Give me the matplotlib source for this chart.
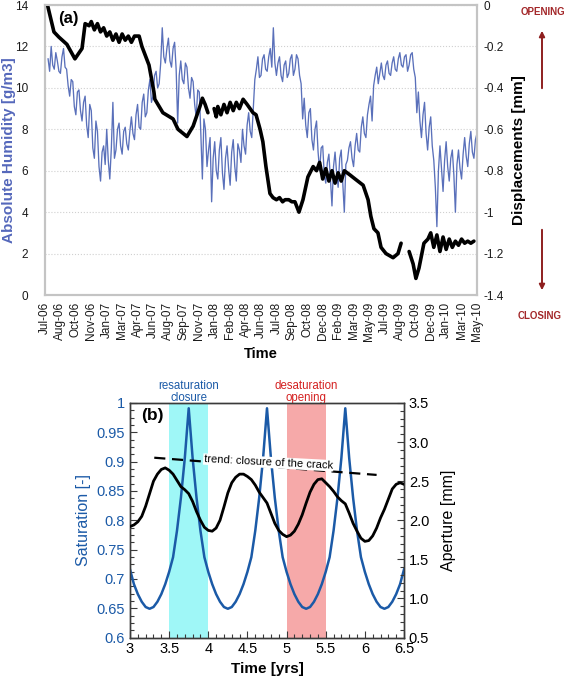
import numpy as np
import matplotlib
matplotlib.use("Agg")
import matplotlib.pyplot as plt
from matplotlib.ticker import MultipleLocator, FormatStrFormatter

plt.rcParams['font.family'] = ['Liberation Sans', 'DejaVu Sans']

# ---------------- panel (a) data: days since 2 Jul 2006 ----------------
date_ticks = ['Jul-06', 'Aug-06', 'Oct-06', 'Nov-06', 'Jan-07', 'Mar-07', 'Apr-07',
              'Jun-07', 'Aug-07', 'Sep-07', 'Nov-07', 'Jan-08', 'Feb-08', 'Apr-08',
              'Jun-08', 'Jul-08', 'Sep-08', 'Oct-08', 'Dec-08', 'Feb-09', 'Mar-09',
              'May-09', 'Jul-09', 'Aug-09', 'Oct-09', 'Dec-09', 'Jan-10', 'Mar-10', 'May-10']
tick_step = 50  # days between date labels

# absolute humidity [g/m3], one reading every 5 days from day 10
humidity = [11.4, 10.8, 12.0, 11.1, 10.9, 11.7, 11.3, 10.8, 10.7, 11.5,
            11.9, 11.0, 10.9, 10.1, 9.6, 10.4, 10.3, 9.1, 8.7, 9.8,
            9.9, 8.9, 8.4, 9.3, 9.6, 8.2, 7.6, 9.2, 8.9, 7.1,
            6.6, 8.4, 7.9, 6.2, 5.5, 6.9, 7.2, 6.3, 8.0, 6.5,
            5.6, 7.1, 9.3, 6.6, 7.0, 8.0, 8.3, 7.2, 6.8, 7.9,
            8.1, 7.3, 7.0, 7.9, 8.6, 7.8, 7.5, 8.7, 9.2, 8.1,
            8.0, 9.3, 9.7, 8.6, 8.8, 9.9, 10.4, 9.3, 9.6, 10.6,
            10.8, 10.0, 10.2, 11.2, 12.9, 11.5, 11.2, 11.9, 12.4, 11.3,
            11.0, 11.9, 12.2, 10.9, 8.3, 10.6, 11.3, 10.4, 10.2, 11.2,
            11.0, 10.0, 9.5, 10.5, 10.3, 9.2, 8.6, 9.9, 9.8, 7.8,
            5.6, 8.5, 8.0, 6.2, 7.0, 7.6, 4.5, 6.6, 7.4, 6.0,
            5.6, 7.0, 7.6, 5.9, 5.1, 6.6, 7.2, 6.1, 5.3, 6.9,
            7.5, 6.2, 5.5, 7.3, 7.0, 6.4, 8.0, 7.2, 6.8, 8.2,
            8.8, 7.9, 7.6, 9.0, 10.4, 10.9, 11.5, 10.5, 10.6, 11.4,
            11.6, 10.9, 10.8, 11.5, 11.9, 11.0, 12.9, 11.2, 10.6, 11.2,
            11.5, 10.6, 10.3, 11.1, 11.3, 10.5, 10.7, 11.4, 11.6, 10.6,
            10.9, 11.6, 11.4, 10.6, 10.2, 8.5, 9.5, 8.2, 7.6, 8.8,
            9.0, 7.5, 7.0, 8.0, 8.4, 6.9, 6.0, 7.1, 7.2, 5.8,
            5.4, 6.4, 6.8, 5.6, 4.3, 6.2, 6.9, 5.9, 5.2, 6.6,
            7.0, 5.4, 4.0, 6.3, 6.5, 7.1, 7.4, 6.6, 6.2, 7.2,
            7.8, 7.0, 6.9, 8.1, 8.6, 7.8, 7.6, 8.7, 9.2, 9.6,
            8.4, 10.1, 10.6, 11.0, 10.2, 10.7, 11.2, 10.6, 10.4, 11.1,
            11.3, 10.7, 10.6, 11.2, 11.5, 10.9, 10.8, 11.4, 11.7, 11.1,
            11.0, 11.5, 11.6, 10.8, 11.1, 11.6, 11.7, 10.9, 10.5, 8.8,
            9.8, 8.4, 7.6, 8.7, 9.3, 7.8, 7.0, 8.1, 8.6, 7.2,
            6.5, 5.2, 3.3, 6.0, 7.2, 6.1, 5.0, 6.5, 7.4, 6.2,
            5.5, 6.6, 7.0, 5.8, 4.0, 6.3, 7.0, 6.1, 5.6, 6.8,
            7.6, 6.7, 6.2, 7.3, 7.9, 6.9, 6.6, 7.5, 7.8]
hum_days = np.arange(10, 10 + 5 * len(humidity), 5)

# crack displacement [mm] (nan = gap in record)
disp_days = [8, 29, 45, 71, 97, 120, 130, 143, 150, 160, 170, 180, 190, 200,
             210, 220, 230, 240, 250, 260, 270, 280, 290, 305, 314, 337, 353, 356,
             382, 415, 431, 460, 480, 502, 510, 519, 528, 538, 548, 555, 560, 570,
             580, 590, 600, 610, 620, 630, 642, 655, 674, 684, 697, 706, 716, 729,
             739, 750, 760, 770, 778, 790, 800, 810, 823, 836, 852, 869, 880, 890,
             900, 910, 920, 930, 940, 950, 960, 970, 988, 1005, 1031, 1047, 1056,
             1066, 1079, 1089, 1105, 1128, 1144, 1154, 1165, 1180, 1193, 1202, 1212,
             1228, 1241, 1250, 1260, 1270, 1280, 1290, 1300, 1310, 1320, 1330, 1340,
             1350, 1360, 1370, 1380, 1390]
displacement = [0.0, -0.13, -0.155, -0.19, -0.26, -0.21, -0.09, -0.10, -0.08, -0.12,
                -0.09, -0.13, -0.11, -0.15, -0.13, -0.17, -0.14, -0.18, -0.14, -0.17,
                -0.15, -0.18, -0.15, -0.15, -0.20, -0.29, -0.42, -0.455, -0.52, -0.55,
                -0.60, -0.635, -0.585, -0.49, -0.45, -0.48, -0.52, np.nan, -0.50, -0.54,
                -0.49, -0.53, -0.48, -0.52, -0.47, -0.51, -0.47, -0.50, -0.455, -0.48,
                -0.52, -0.53, -0.60, -0.66, -0.78, -0.91, -0.93, -0.94, -0.93, -0.95,
                -0.94, -0.94, -0.95, -0.95, -1.0, -0.94, -0.83, -0.78, -0.80, -0.76,
                -0.84, -0.79, -0.85, -0.80, -0.86, -0.81, -0.85, -0.80, -0.82, -0.84,
                -0.87, -0.94, -1.02, -1.08, -1.10, -1.17, -1.20, -1.22, -1.20, -1.15,
                np.nan, -1.19, -1.25, -1.32, -1.27, -1.15, -1.13, -1.10, -1.17, -1.11,
                -1.19, -1.12, -1.18, -1.13, -1.17, -1.14, -1.16, -1.13, -1.15, -1.14,
                -1.15, -1.14]

# ---------------- panel (b) data ----------------
time_yrs = np.round(np.arange(3.0, 6.5001, 0.05), 2)
saturation = [0.716, 0.691, 0.674, 0.661, 0.652, 0.649, 0.652, 0.661, 0.674, 0.691,
              0.712, 0.737, 0.782, 0.838, 0.906, 0.991, 0.906, 0.838, 0.782, 0.737,
              0.712, 0.691, 0.674, 0.661, 0.652, 0.649, 0.652, 0.661, 0.674, 0.691,
              0.712, 0.737, 0.782, 0.838, 0.906, 0.991, 0.906, 0.838, 0.782, 0.737,
              0.712, 0.691, 0.674, 0.661, 0.652, 0.649, 0.652, 0.661, 0.674, 0.691,
              0.712, 0.737, 0.782, 0.838, 0.906, 0.991, 0.906, 0.838, 0.782, 0.737,
              0.712, 0.691, 0.674, 0.661, 0.652, 0.649, 0.652, 0.661, 0.674, 0.691,
              0.716]
aperture = [1.92, 1.94, 1.98, 2.05, 2.18, 2.34, 2.50, 2.59, 2.65, 2.67,
            2.64, 2.59, 2.51, 2.43, 2.39, 2.34, 2.24, 2.11, 2.00, 1.91,
            1.87, 1.86, 1.90, 2.00, 2.17, 2.35, 2.48, 2.55, 2.59, 2.59,
            2.56, 2.52, 2.45, 2.36, 2.29, 2.22, 2.09, 1.96, 1.87, 1.82,
            1.79, 1.81, 1.86, 1.95, 2.07, 2.22, 2.36, 2.46, 2.52, 2.53,
            2.48, 2.43, 2.37, 2.30, 2.25, 2.21, 2.09, 1.96, 1.86, 1.77,
            1.73, 1.74, 1.80, 1.90, 2.03, 2.14, 2.27, 2.40, 2.46, 2.48,
            2.46]
trend_x = [3.31, 6.15]
trend_ap = [2.80, 2.58]
resat_band = (3.5, 4.0)
desat_band = (5.0, 5.5)

W, H = 567, 679
fig = plt.figure(figsize=(W / 100, H / 100), dpi=100)

def rect(x0, y0, x1, y1):
    # pixel box -> figure fraction
    return [x0 / W, 1 - y1 / H, (x1 - x0) / W, (y1 - y0) / H]

# ================= panel (a) =================
ax1 = fig.add_axes(rect(45, 5, 477, 295))
ax2 = ax1.twinx()
ax1.plot(hum_days, humidity, color='#4861b3', lw=0.95, alpha=0.9)
ax2.plot(disp_days, displacement, color='black', lw=2.6, solid_capstyle='round')

ax1.set_xlim(0, (len(date_ticks) - 1) * tick_step)
ax1.set_ylim(0, 14)
ax2.set_ylim(-1.4, 0)
ax1.set_yticks(np.arange(0, 15, 2))
ax2.set_yticks(np.arange(-1.4, 0.01, 0.2))
ax2.set_yticklabels(['-1.4', '-1.2', '-1', '-0.8', '-0.6', '-0.4', '-0.2', '0'])
ax1.set_xticks(np.arange(len(date_ticks)) * tick_step)
ax1.set_xticklabels(date_ticks, rotation=90, fontsize=8.5)
ax1.yaxis.grid(True, color='#d0d0d0', ls=':', lw=0.8)
for a in (ax1, ax2):
    for s in a.spines.values():
        s.set_color('#c4c4c4')
        s.set_linewidth(1.5)
    a.tick_params(length=0, labelsize=8.5, colors='#1a1a1a')
ax1.tick_params(axis='y', pad=12)
ax1.tick_params(axis='x', pad=5)
ax2.tick_params(axis='y', pad=5)
ax1.set_ylabel('Absolute Humidity [g/m3]', color='#5568bb', fontsize=11,
               fontweight='bold')
ax1.yaxis.set_label_coords(-(45 - 16) / 432, 0.5)
ax2.set_ylabel('Displacements [mm]', fontsize=11, fontweight='bold')
ax2.yaxis.set_label_coords((512 - 45) / 432, 0.5)
ax1.set_xlabel('Time', fontsize=10.5, fontweight='bold', labelpad=4)
ax1.text(0.03, 0.955, '(a)', transform=ax1.transAxes, fontsize=12,
         fontweight='bold', ha='left', va='center')

red = '#a3282a'
fig.text(543 / W, 1 - 12 / H, 'OPENING', color=red, fontsize=7, fontweight='bold',
         ha='center', va='center')
fig.text(540 / W, 1 - 316 / H, 'CLOSING', color=red, fontsize=7, fontweight='bold',
         ha='center', va='center')
ax1.annotate('', xy=(542 / W, 1 - 28 / H), xytext=(542 / W, 1 - 91 / H),
             xycoords='figure fraction', annotation_clip=False,
             arrowprops=dict(arrowstyle='-|>', color='#8e1f1f', lw=1.4, mutation_scale=8))
ax1.annotate('', xy=(542 / W, 1 - 293 / H), xytext=(542 / W, 1 - 227 / H),
             xycoords='figure fraction', annotation_clip=False,
             arrowprops=dict(arrowstyle='-|>', color='#8e1f1f', lw=1.4, mutation_scale=8))

# ================= panel (b) =================
bx1 = fig.add_axes(rect(130, 403, 404, 637.5))
bx2 = bx1.twinx()
bx1.axvspan(*resat_band, color='#9ff7f7', lw=0, zorder=0)
bx1.axvspan(*desat_band, color='#f6a9a9', lw=0, zorder=0)
bx1.plot(time_yrs, saturation, color='#1b5aa7', lw=1.8, zorder=3)
bx2.plot(time_yrs, aperture, color='black', lw=2.0, zorder=3)
bx2.plot(trend_x, trend_ap, color='black', lw=1.6, ls=(0, (5, 3)), zorder=2)
bx2.text(3.94, 2.74, 'trend: closure of the crack', fontsize=8, rotation=-3,
         ha='left', va='center', zorder=4,
         bbox=dict(facecolor='white', edgecolor='none', pad=0.5))

bx1.set_xlim(3, 6.5)
bx1.set_ylim(0.6, 1.0)
bx2.set_ylim(0.5, 3.5)
bx1.xaxis.set_major_locator(MultipleLocator(0.5))
bx1.xaxis.set_minor_locator(MultipleLocator(0.1))
bx1.xaxis.set_major_formatter(FormatStrFormatter('%g'))
bx1.yaxis.set_major_locator(MultipleLocator(0.05))
bx1.yaxis.set_minor_locator(MultipleLocator(0.0125))
bx1.yaxis.set_major_formatter(FormatStrFormatter('%g'))
bx2.yaxis.set_major_locator(MultipleLocator(0.5))
bx2.yaxis.set_minor_locator(MultipleLocator(0.1))
bx2.yaxis.set_major_formatter(FormatStrFormatter('%.1f'))
for a in (bx1, bx2):
    for s in a.spines.values():
        s.set_color('#3a3a3a')
        s.set_linewidth(1.0)
    a.tick_params(which='both', direction='in', labelsize=10.5, width=0.8,
                  colors='#3a3a3a', labelcolor='black')
    a.tick_params(which='major', length=5)
    a.tick_params(which='minor', length=3)
bx1.tick_params(axis='y', labelcolor='#1b5aa7')
bx1.set_ylabel('Saturation [-]', color='#1b5aa7', fontsize=11.5)
bx1.yaxis.set_label_coords(-(130 - 91) / 274, 0.5)
bx2.set_ylabel('Aperture [mm]', fontsize=11.5)
bx2.yaxis.set_label_coords((441 - 130) / 274, 0.5)
bx1.set_xlabel('Time [yrs]', fontsize=11, fontweight='bold', labelpad=4)
bx1.text(0.04, 0.945, '(b)', transform=bx1.transAxes, fontsize=12.5,
         fontweight='bold', ha='left', va='center')
bx1.text(np.mean(resat_band), 0.999, 'resaturation\nclosure', color='#1b5aa7',
         fontsize=8.3, ha='center', va='bottom', linespacing=0.92)
bx1.text(np.mean(desat_band), 0.999, 'desaturation\nopening', color='#d42020',
         fontsize=8.3, ha='center', va='bottom', linespacing=0.92)

fig.savefig('out.png', dpi=100)
